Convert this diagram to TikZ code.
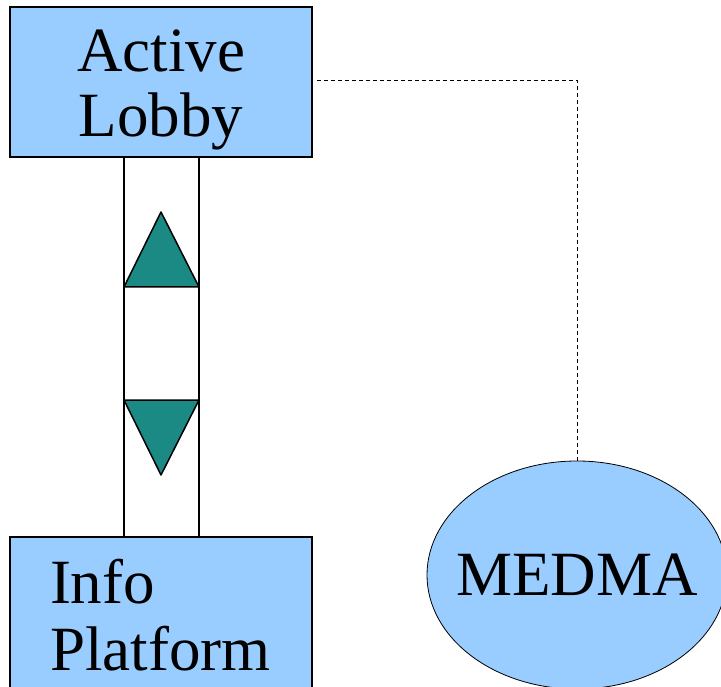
\documentclass[tikz,border=0pt]{standalone}
\usepackage{fontspec}
\setmainfont{Liberation Serif}
\usetikzlibrary{shapes.geometric}
\definecolor{boxblue}{HTML}{99CCFF}
\definecolor{teal2}{HTML}{1B8A85}
\begin{document}
\begin{tikzpicture}[x=1pt,y=-1pt,
  box/.style={draw=black,line width=1.8pt,fill=boxblue,rectangle,minimum width=302pt,minimum height=150pt,inner sep=0pt,
    font=\fontsize{63}{67}\selectfont},
  tri/.style={draw=black,line width=1.5pt,fill=teal2,line join=round},
  rail/.style={draw=black,line width=1.5pt},
  link/.style={draw=black,line width=0.9pt,dash pattern=on 4pt off 3pt}]
\useasboundingbox (0,0) rectangle (721,687);
\node[box,align=center,font=\fontsize{63}{65}\selectfont] (A) at (161,82) {\rule{0pt}{57pt}Active\\Lobby};
\node[box,minimum height=156pt,text width=222pt,inner xsep=40pt,align=left] (I) at (161,615) {Info\\Platform};
\node[ellipse,draw=black,line width=0.8pt,fill=boxblue,minimum width=300pt,minimum height=228pt,inner sep=0pt,
  font=\fontsize{63}{67}\selectfont] (M) at (577,575) {\makebox[0pt]{MEDMA}};
\coordinate (L1) at (124,0);
\coordinate (L2) at (199,0);
\draw[rail] (A.south -| L1) -- (I.north -| L1);
\draw[rail] (A.south -| L2) -- (I.north -| L2);
\draw[tri] (124,287) -- (161,212) -- (199,287) -- cycle;
\draw[tri] (124,400) -- (161,475) -- (199,400) -- cycle;
\draw[link] ([shift={(4,-2)}]A.east) -| (M.north);
\end{tikzpicture}
\end{document}
